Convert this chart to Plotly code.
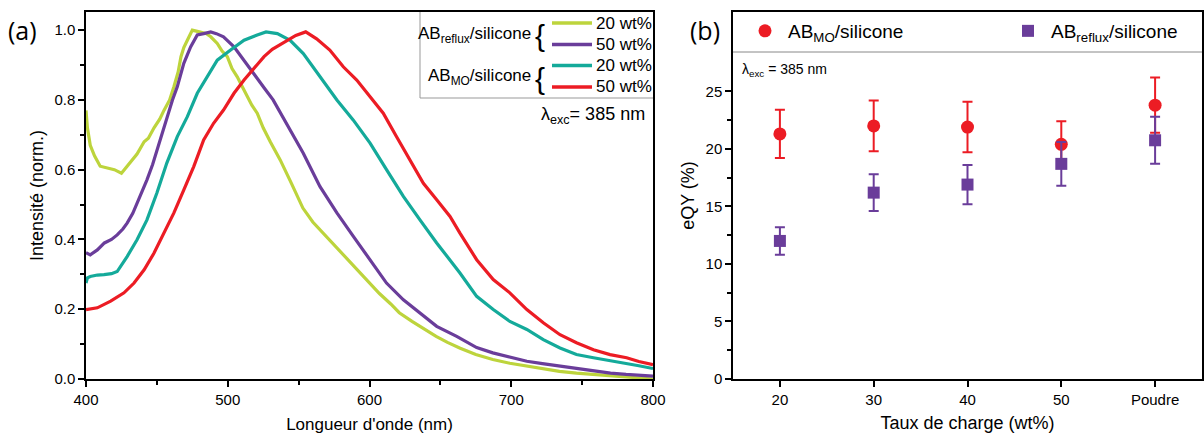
import plotly.graph_objects as go

# ---------------- data: panel (a) emission spectra ----------------
wl_reflux20 = [400, 401, 403, 406, 410, 415, 420, 425, 430, 436, 441, 444, 448, 452, 455, 459, 462, 465, 467, 469,
               471.5, 475, 480, 485, 488, 492.6, 496, 499.7, 503, 506.7, 510, 513.8, 517, 520.8, 525, 530, 537, 545,
               553, 560, 568, 577, 584, 592, 600, 607, 615, 621, 630, 640, 647, 655, 664, 675, 687, 699, 711, 722,
               734, 746, 758, 770, 781, 790, 800]
int_reflux20 = [0.77, 0.72, 0.67, 0.64, 0.61, 0.605, 0.60, 0.59, 0.615, 0.645, 0.68, 0.69, 0.72, 0.745, 0.77, 0.80,
                0.838, 0.88, 0.924, 0.95, 0.971, 1.0, 0.995, 0.99, 0.981, 0.962, 0.94, 0.924, 0.89, 0.866, 0.84, 0.809,
                0.785, 0.762, 0.72, 0.68, 0.628, 0.56, 0.49, 0.45, 0.415, 0.375, 0.345, 0.31, 0.276, 0.245, 0.215,
                0.19, 0.165, 0.14, 0.122, 0.105, 0.088, 0.07, 0.056, 0.045, 0.037, 0.03, 0.022, 0.017, 0.013, 0.008,
                0.004, 0.003, 0.0]

wl_reflux50 = [400, 403, 408, 413, 418, 422, 426, 429, 433, 436, 440, 443, 447, 450, 454, 457, 461, 464.4, 469,
               473.8, 478.5, 483, 488, 492, 497, 504.4, 511.5, 518.5, 525.6, 532, 541.6, 553.3, 565, 577, 588.6,
               600.4, 612, 623.9, 635.6, 647.4, 661.5, 675.6, 687, 699, 711, 722, 734, 746, 758, 770, 781, 800]
int_reflux50 = [0.362, 0.356, 0.37, 0.39, 0.40, 0.413, 0.43, 0.447, 0.475, 0.504, 0.54, 0.571, 0.615, 0.656, 0.705,
                0.752, 0.80, 0.838, 0.905, 0.952, 0.986, 0.99, 0.995, 0.99, 0.981, 0.952, 0.914, 0.876, 0.835, 0.80,
                0.733, 0.647, 0.552, 0.476, 0.409, 0.342, 0.275, 0.227, 0.189, 0.151, 0.122, 0.09, 0.075, 0.062,
                0.051, 0.044, 0.037, 0.03, 0.022, 0.017, 0.013, 0.008]

wl_mo20 = [400, 401, 403, 408, 412.7, 418, 422, 425, 429, 436, 443, 450, 457, 464.4, 471.5, 478.5, 485.6, 492.6,
           502, 511.5, 520.8, 527, 535, 544, 553.3, 565, 577, 588.6, 600.4, 612, 624, 635.6, 647.4, 663.8, 675.6,
           687.3, 699, 711, 722.6, 734.4, 746, 758, 770, 781.4, 790, 800]
int_mo20 = [0.275, 0.29, 0.294, 0.298, 0.299, 0.302, 0.308, 0.325, 0.351, 0.399, 0.456, 0.533, 0.619, 0.695, 0.752,
            0.819, 0.866, 0.914, 0.943, 0.971, 0.986, 0.995, 0.99, 0.971, 0.933, 0.866, 0.80, 0.742, 0.676, 0.60,
            0.523, 0.456, 0.39, 0.304, 0.237, 0.199, 0.165, 0.142, 0.113, 0.089, 0.07, 0.061, 0.053, 0.046, 0.038,
            0.03]

wl_mo50 = [400, 408, 417.4, 426.8, 433.9, 441, 448, 455, 462, 469, 476, 483, 490, 497, 504.4, 511.5, 518.5, 525.6,
           531.4, 541.6, 548, 555, 562.7, 572, 581.5, 591, 600.4, 609.7, 619, 628.6, 638, 647.4, 656.8, 663.8,
           675.6, 687.3, 699, 711, 722.6, 734.4, 746, 758, 769.7, 781.4, 790, 800]
int_mo50 = [0.199, 0.204, 0.223, 0.247, 0.275, 0.313, 0.361, 0.418, 0.476, 0.542, 0.609, 0.685, 0.733, 0.771, 0.819,
            0.857, 0.89, 0.924, 0.945, 0.971, 0.985, 0.995, 0.975, 0.943, 0.895, 0.857, 0.809, 0.762, 0.695, 0.628,
            0.561, 0.514, 0.466, 0.418, 0.342, 0.285, 0.247, 0.199, 0.161, 0.127, 0.104, 0.084, 0.07, 0.061, 0.05,
            0.041]

# ---------------- data: panel (b) eQY ----------------
categories = ["20", "30", "40", "50", "Poudre"]
eqy_mo = [21.3, 22.0, 21.9, 20.4, 23.8]
err_mo = [2.1, 2.2, 2.2, 2.0, 2.4]
eqy_reflux = [12.0, 16.2, 16.9, 18.7, 20.75]
err_reflux = [1.2, 1.6, 1.7, 1.9, 2.05]

C_YG = "#bdd43c"
C_PU = "#6a3d9a"
C_TE = "#14aa9a"
C_RE = "#ec1c24"
FONT = "Liberation Sans, Arial, sans-serif"

W, H = 1204, 434


def px(x):
    return x / W


def py(y):
    return 1 - y / H


fig = go.Figure()

for wl, inten, col in [(wl_reflux20, int_reflux20, C_YG), (wl_reflux50, int_reflux50, C_PU),
                       (wl_mo20, int_mo20, C_TE), (wl_mo50, int_mo50, C_RE)]:
    fig.add_trace(go.Scatter(x=wl, y=inten, mode="lines", line=dict(color=col, width=3.2),
                             showlegend=False, xaxis="x", yaxis="y"))

fig.add_trace(go.Scatter(x=categories, y=eqy_mo, mode="markers", name="AB<sub>MO</sub>/silicone",
                         marker=dict(color=C_RE, size=13, symbol="circle"),
                         error_y=dict(type="data", array=err_mo, color=C_RE, thickness=2, width=5),
                         xaxis="x2", yaxis="y2", legend="legend"))
fig.add_trace(go.Scatter(x=categories, y=eqy_reflux, mode="markers", name="AB<sub>reflux</sub>/silicone",
                         marker=dict(color=C_PU, size=12, symbol="square"),
                         error_y=dict(type="data", array=err_reflux, color=C_PU, thickness=2, width=5),
                         xaxis="x2", yaxis="y2", legend="legend2"))

axis_common = dict(showline=True, linecolor="black", linewidth=1.5, mirror=True, ticks="outside",
                   ticklen=6, tickwidth=1.5, tickcolor="black", showgrid=False, zeroline=False,
                   tickfont=dict(family=FONT, size=15, color="black"))

ydom = [py(379), py(12)]
leg_common = dict(orientation="h", yanchor="middle", xanchor="left", bgcolor="rgba(0,0,0,0)",
                  itemwidth=36, font=dict(family=FONT, size=19, color="black"))
fig.update_layout(
    width=W, height=H, margin=dict(l=0, r=0, t=0, b=0, autoexpand=False),
    paper_bgcolor="white", plot_bgcolor="white",
    font=dict(family=FONT, color="black"),
    xaxis=dict(domain=[px(86), px(653)], range=[400, 800], tickvals=[400, 500, 600, 700, 800],
               minor=dict(tickvals=[450, 550, 650, 750], ticks="outside", ticklen=4, tickcolor="black", tickwidth=1.5),
               title=dict(text="Longueur d'onde (nm)", font=dict(size=17, family=FONT), standoff=18),
               anchor="y", **axis_common),
    yaxis=dict(domain=ydom, range=[0, 1.052], tickvals=[0, 0.2, 0.4, 0.6, 0.8, 1.0],
               ticktext=["0.0", "0.2", "0.4", "0.6", "0.8", "1.0"],
               minor=dict(tickvals=[0.1, 0.3, 0.5, 0.7, 0.9], ticks="outside", ticklen=4, tickcolor="black", tickwidth=1.5),
               title=dict(text="Intensité (norm.)", font=dict(size=18, family=FONT), standoff=6),
               anchor="x", **axis_common),
    xaxis2=dict(domain=[px(733), px(1202)], range=[-0.5, 4.5], type="category",
                title=dict(text="Taux de charge (wt%)", font=dict(size=18, family=FONT), standoff=10),
                anchor="y2", **axis_common),
    yaxis2=dict(domain=ydom, range=[0, 31.9], tickvals=[0, 5, 10, 15, 20, 25],
                minor=dict(tickvals=[2.5, 7.5, 12.5, 17.5, 22.5], ticks="outside", ticklen=4, tickcolor="black", tickwidth=1.5),
                title=dict(text="eQY (%)", font=dict(size=18, family=FONT), standoff=6),
                anchor="x2", **axis_common),
    legend=dict(x=px(742), y=py(31), **leg_common),
    legend2=dict(x=px(1005), y=py(31), **leg_common),
)

shapes = []
# panel (b) legend separator
shapes.append(dict(type="line", xref="paper", yref="paper", x0=px(733), x1=px(1202), y0=py(52), y1=py(52),
                   line=dict(color="#888888", width=1)))
# panel (a) legend box
shapes.append(dict(type="line", xref="paper", yref="paper", x0=px(420), x1=px(420), y0=py(12), y1=py(98),
                   line=dict(color="#999999", width=1)))
shapes.append(dict(type="line", xref="paper", yref="paper", x0=px(420), x1=px(653), y0=py(98), y1=py(98),
                   line=dict(color="#999999", width=1)))
leg_items = [(C_YG, 23, "20 wt%"), (C_PU, 44.5, "50 wt%"), (C_TE, 65.5, "20 wt%"), (C_RE, 87, "50 wt%")]
annotations = []
for col, yy, lab in leg_items:
    shapes.append(dict(type="line", xref="paper", yref="paper", x0=px(552), x1=px(592), y0=py(yy), y1=py(yy),
                       line=dict(color=col, width=3.5)))
    annotations.append(dict(x=px(594), y=py(yy), xref="paper", yref="paper", text=lab, showarrow=False,
                            xanchor="left", yanchor="middle", font=dict(family=FONT, size=17, color="black")))

annotations += [
    dict(x=px(533), y=py(35), xref="paper", yref="paper", text="AB<sub>reflux</sub>/silicone", showarrow=False,
         xanchor="right", yanchor="middle", font=dict(family=FONT, size=17, color="black")),
    dict(x=px(533), y=py(77), xref="paper", yref="paper", text="AB<sub>MO</sub>/silicone", showarrow=False,
         xanchor="right", yanchor="middle", font=dict(family=FONT, size=17, color="black")),
    dict(x=px(533), y=py(36), xref="paper", yref="paper", text="{", showarrow=False,
         xanchor="left", yanchor="middle", font=dict(family="Liberation Sans", size=30, color="black")),
    dict(x=px(533), y=py(78), xref="paper", yref="paper", text="{", showarrow=False,
         xanchor="left", yanchor="middle", font=dict(family="Liberation Sans", size=30, color="black")),
    dict(x=px(647), y=py(115), xref="paper", yref="paper", text="λ<sub>exc</sub>= 385 nm", showarrow=False,
         xanchor="right", yanchor="middle", font=dict(family=FONT, size=18, color="black")),
    dict(x=px(740), y=py(70), xref="paper", yref="paper", text="λ<sub>exc</sub> = 385 nm", showarrow=False,
         xanchor="left", yanchor="middle", font=dict(family=FONT, size=14, color="black")),
    dict(x=px(6), y=py(30), xref="paper", yref="paper", text="(a)", showarrow=False,
         xanchor="left", yanchor="middle", font=dict(family="Open Sans", size=25, color="black")),
    dict(x=px(688), y=py(30), xref="paper", yref="paper", text="(b)", showarrow=False,
         xanchor="left", yanchor="middle", font=dict(family="Open Sans", size=25, color="black")),
]

fig.update_layout(shapes=shapes, annotations=annotations)
fig.write_html("out.html", post_script="document.body.style.margin='0';",
               config={"displayModeBar": False})
